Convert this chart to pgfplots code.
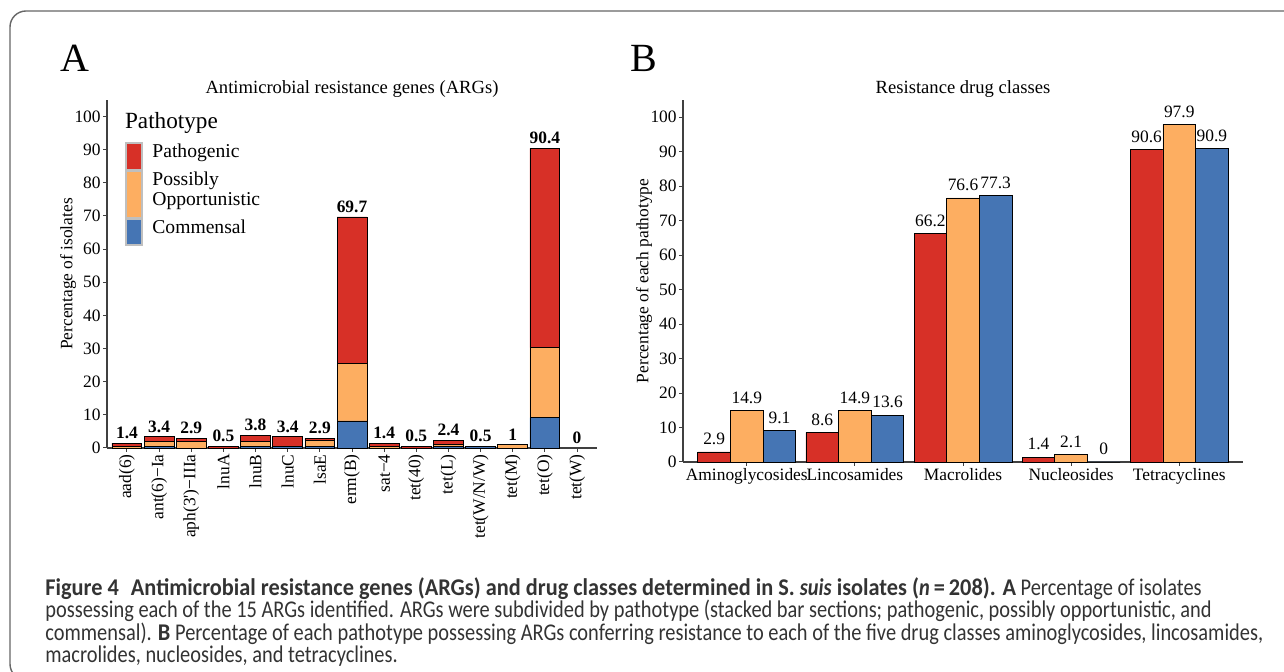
\documentclass[border=0pt]{standalone}
\usepackage{fontspec}
\setmainfont{Liberation Serif}
\newfontfamily\capfont[FakeStretch=0.85, BoldFeatures={FakeStretch=0.93}]{Carlito}
\usepackage{pgfplots}
\pgfplotsset{compat=1.18}

\definecolor{patho}{HTML}{D73027}
\definecolor{oppor}{HTML}{FDAE61}
\definecolor{comme}{HTML}{4575B4}

\pgfplotsset{
  ggstyle/.style={
    scale only axis,
    axis lines=left,
    axis line style={-, black!75, line width=0.6pt},
    tick style={black!75, line width=0.5pt},
    major tick length=2pt,
    tick align=outside,
    /pgf/number format/assume math mode=true,
    tick label style={font=\fontsize{8.7}{9}\selectfont, inner sep=1pt},
    label style={font=\fontsize{8.7}{9}\selectfont},
    ylabel style={inner sep=1pt},
    ylabel shift=-3pt,
    every axis title/.style={at={(0.5,1)}, anchor=south, inner sep=1pt,
      font=\fontsize{9.3}{10}\selectfont},
    ymin=0, ymax=105,
    ytick={0,10,...,100},
    clip=false,
  },
}

\begin{document}
\begin{tikzpicture}
\clip (0,0) rectangle (642pt,-336pt);

% ---- panel A: stacked ARG bars
\begin{axis}[
  ggstyle,
  at={(53.5pt,-224pt)}, anchor=south west,
  width=245pt, height=174pt,
  xmin=-0.62, xmax=14.62,
  ybar stacked, bar width=0.93,
  xtick={0,...,14},
  xticklabels={aad(6), ant(6)−Ia, aph(3\textquotesingle)−IIIa, lnuA, lnuB, lnuC, lsaE, erm(B), sat−4, tet(40), tet(L), tet(W/N/W), tet(M), tet(O), tet(W)},
  x tick label style={rotate=90, anchor=east},
  ylabel={Percentage of isolates},
  title={Antimicrobial resistance genes (ARGs)},
]
% commensal
\addplot[fill=comme, draw=black, line width=0.4pt] coordinates {
  (0,0) (1,0.48) (2,0) (3,0) (4,0.48) (5,0.48) (6,0.48) (7,8.17)
  (8,0) (9,0) (10,0.48) (11,0.48) (12,0) (13,9.13) (14,0)
};
% possibly opportunistic
\addplot[fill=oppor, draw=black, line width=0.4pt] coordinates {
  (0,0.48) (1,1.44) (2,1.92) (3,0) (4,1.44) (5,0) (6,1.92) (7,17.31)
  (8,0.48) (9,0) (10,0.48) (11,0) (12,0.96) (13,21.15) (14,0)
};
% pathogenic
\addplot[fill=patho, draw=black, line width=0.4pt] coordinates {
  (0,0.96) (1,1.44) (2,0.96) (3,0.48) (4,1.92) (5,2.88) (6,0.48) (7,44.23)
  (8,0.96) (9,0.48) (10,1.44) (11,0) (12,0) (13,60.10) (14,0)
};
\end{axis}

% totals above the stacks (overlay with the same geometry)
\begin{axis}[
  scale only axis, hide axis, clip=false,
  at={(53.5pt,-224pt)}, anchor=south west,
  width=245pt, height=174pt,
  xmin=-0.62, xmax=14.62, ymin=0, ymax=105,
]
\addplot[draw=none, mark=none, point meta=explicit symbolic,
  nodes near coords,
  every node near coord/.append style={font=\bfseries\fontsize{8.7}{9}\selectfont,
    anchor=south, inner sep=2pt}]
  coordinates {
  (0,1.4)[1.4] (1,3.4)[3.4] (2,2.9)[2.9] (3,0.5)[0.5] (4,3.8)[3.8] (5,3.4)[3.4]
  (6,2.9)[2.9] (7,69.7)[69.7] (8,1.4)[1.4] (9,0.5)[0.5] (10,2.4)[2.4]
  (11,0.5)[0.5] (12,1)[1] (13,90.4)[90.4] (14,0)[0]
};
\end{axis}

% ---- panel B: grouped drug-class bars
\begin{axis}[
  ggstyle,
  at={(341.5pt,-231pt)}, anchor=south west,
  width=280pt, height=181pt,
  xmin=-0.59, xmax=4.59,
  ybar, bar width=0.302,
  xtick={0,...,4},
  xticklabels={Aminoglycosides, Lincosamides, Macrolides, Nucleosides, Tetracyclines},
  ylabel={Percentage of each pathotype},
  title={Resistance drug classes},
  nodes near coords,
  every node near coord/.append style={font=\fontsize{8.7}{9}\selectfont, anchor=south},
]
\addplot[fill=patho, draw=black, line width=0.4pt, bar shift=-0.302] coordinates {
  (0,2.9) (1,8.6) (2,66.2) (3,1.4) (4,90.6)
};
\addplot[fill=oppor, draw=black, line width=0.4pt, bar shift=0] coordinates {
  (0,14.9) (1,14.9) (2,76.6) (3,2.1) (4,97.9)
};
\addplot[fill=comme, draw=black, line width=0.4pt, bar shift=0.302] coordinates {
  (0,9.1) (1,13.6) (2,77.3) (3,0) (4,90.9)
};
\end{axis}

% ---- decorations in pixel units
\begin{scope}[x=0.5pt, y=-0.5pt]
\draw[black!60, line width=0.7pt, rounded corners=8pt] (10,11) rectangle (1330,680);
\node[font=\fontsize{20}{22}\selectfont] at (75,58) {A};
\node[font=\fontsize{20}{22}\selectfont] at (644,58) {B};
% legend
\node[anchor=west, font=\fontsize{11.6}{12}\selectfont] at (118,123) {Pathotype};
\draw[gray!50, line width=0.6pt, fill=patho] (126,143) rectangle (142,170);
\draw[gray!50, line width=0.6pt, fill=oppor] (126,171) rectangle (142,218);
\draw[gray!50, line width=0.6pt, fill=comme] (126,219) rectangle (142,245);
\begin{scope}[every node/.style={anchor=west, font=\fontsize{9.8}{10.5}\selectfont, inner sep=0}]
\node at (152,153) {Pathogenic};
\node at (152,181) {Possibly};
\node at (152,201) {Opportunistic};
\node at (152,227) {Commensal};
\end{scope}
% caption
\node[anchor=north west, align=left, inner sep=0, text=black!80,
  font=\capfont\fontsize{12}{11.2}\selectfont] at (45,577) {%
  \textbf{Figure 4\enspace Antimicrobial resistance genes (ARGs) and drug classes determined in S.~\textit{suis} isolates (\textit{n}\,=\,208). A} Percentage of isolates\\
  possessing each of the 15 ARGs identified. ARGs were subdivided by pathotype (stacked bar sections; pathogenic, possibly opportunistic, and\\
  commensal). \textbf{B} Percentage of each pathotype possessing ARGs conferring resistance to each of the five drug classes aminoglycosides, lincosamides,\\
  macrolides, nucleosides, and tetracyclines.};
\end{scope}
\end{tikzpicture}
\end{document}
